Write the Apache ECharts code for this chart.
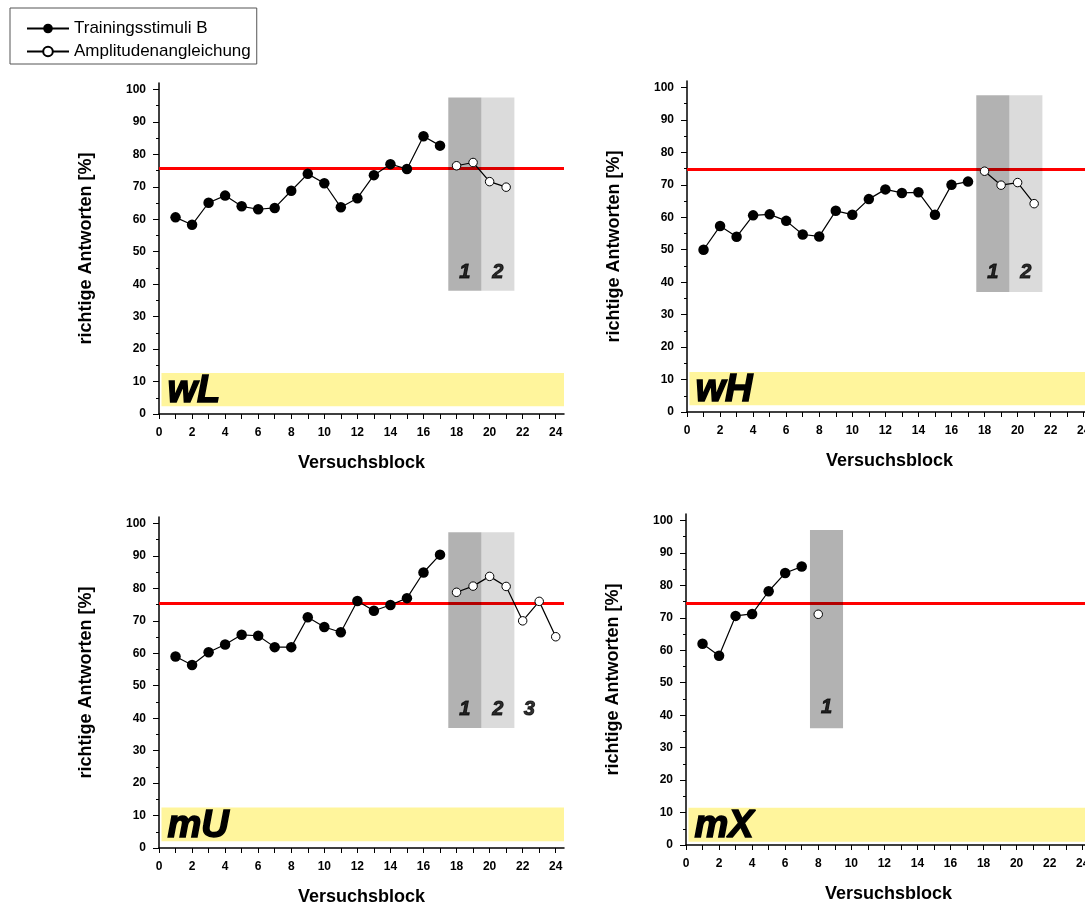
<!DOCTYPE html>
<html>
<head>
<meta charset="utf-8">
<script src="https://cdn.jsdelivr.net/npm/echarts@6/dist/echarts.min.js"></script>
<style>
html,body{margin:0;padding:0;background:#fff;}
#chart{width:1085px;height:907px;}
</style>
</head>
<body>
<div id="chart"></div>
<script>
// ---------- data ----------
const xTickValues = [0,1,2,3,4,5,6,7,8,9,10,11,12,13,14,15,16,17,18,19,20,21,22,23,24];
const xLabelValues = [0,2,4,6,8,10,12,14,16,18,20,22,24];
const yLabelValues = [0,10,20,30,40,50,60,70,80,90,100];
const yMinorValues = [5,15,25,35,45,55,65,75,85,95];

const seriesNames = ['Trainingsstimuli B', 'Amplitudenangleichung'];
const panelNames = ['wL', 'wH', 'mU', 'mX'];

// wL
const trainBlocks_wL = [1,2,3,4,5,6,7,8,9,10,11,12,13,14,15,16,17];
const train_wL = [60.6,58.3,65.1,67.3,64.0,63.1,63.5,68.8,74.0,71.1,63.7,66.5,73.6,77.0,75.5,85.6,82.7];
const ampBlocks_wL = [18,19,20,21];
const amp_wL = [76.5,77.5,71.6,69.9];
const criterion_wL = 75.7;
const bandFrom_wL = [17.5,19.5];
const bandTo_wL = [19.5,21.5];
const bandRange_wL = [38,97.5];
const bandLabels_wL = ['1','2'];
const bandLabelX_wL = [18.5,20.5];
const bandLabelY_wL = 43.5;
const nameBand_wL = [2.4,12.6];

// wH
const trainBlocks_wH = [1,2,3,4,5,6,7,8,9,10,11,12,13,14,15,16,17];
const train_wH = [50.0,57.3,54.0,60.6,60.9,58.9,54.7,54.1,62.0,60.8,65.6,68.6,67.5,67.7,60.8,70.0,71.0];
const ampBlocks_wH = [18,19,20,21];
const amp_wH = [74.2,69.9,70.7,64.2];
const criterion_wH = 74.9;
const bandFrom_wH = [17.5,19.5];
const bandTo_wH = [19.5,21.5];
const bandRange_wH = [37,97.6];
const bandLabels_wH = ['1','2'];
const bandLabelX_wH = [18.5,20.5];
const bandLabelY_wH = 43.0;
const nameBand_wH = [2.1,12.3];

// mU
const trainBlocks_mU = [1,2,3,4,5,6,7,8,9,10,11,12,13,14,15,16,17];
const train_mU = [59.0,56.4,60.3,62.7,65.7,65.4,61.9,61.9,71.1,68.1,66.5,76.1,73.1,74.9,77.0,84.9,90.4];
const ampBlocks_mU = [18,19,20,21,22,23,24];
const amp_mU = [78.8,80.7,83.7,80.6,70.0,76.0,65.1];
const criterion_mU = 75.4;
const bandFrom_mU = [17.5,19.5];
const bandTo_mU = [19.5,21.5];
const bandRange_mU = [37,97.3];
const bandLabels_mU = ['1','2','3'];
const bandLabelX_mU = [18.5,20.5,22.4];
const bandLabelY_mU = 42.7;
const nameBand_mU = [2.1,12.5];

// mX
const trainBlocks_mX = [1,2,3,4,5,6,7];
const train_mX = [62.0,58.3,70.6,71.2,78.2,83.8,85.8];
const ampBlocks_mX = [8];
const amp_mX = [71.1];
const criterion_mX = 74.4;
const bandFrom_mX = [7.5];
const bandTo_mX = [9.5];
const bandRange_mX = [36,97.1];
const bandLabels_mX = ['1'];
const bandLabelX_mX = [8.5];
const bandLabelY_mX = 42.4;
const nameBand_mX = [1.0,11.5];

const panels = [
  {name:'wL', tb:trainBlocks_wL, tv:train_wL, ab:ampBlocks_wL, av:amp_wL, crit:criterion_wL, bf:bandFrom_wL, bt:bandTo_wL, br:bandRange_wL, bl:bandLabels_wL, blx:bandLabelX_wL, bly:bandLabelY_wL, nb:nameBand_wL},
  {name:'wH', tb:trainBlocks_wH, tv:train_wH, ab:ampBlocks_wH, av:amp_wH, crit:criterion_wH, bf:bandFrom_wH, bt:bandTo_wH, br:bandRange_wH, bl:bandLabels_wH, blx:bandLabelX_wH, bly:bandLabelY_wH, nb:nameBand_wH},
  {name:'mU', tb:trainBlocks_mU, tv:train_mU, ab:ampBlocks_mU, av:amp_mU, crit:criterion_mU, bf:bandFrom_mU, bt:bandTo_mU, br:bandRange_mU, bl:bandLabels_mU, blx:bandLabelX_mU, bly:bandLabelY_mU, nb:nameBand_mU},
  {name:'mX', tb:trainBlocks_mX, tv:train_mX, ab:ampBlocks_mX, av:amp_mX, crit:criterion_mX, bf:bandFrom_mX, bt:bandTo_mX, br:bandRange_mX, bl:bandLabels_mX, blx:bandLabelX_mX, bly:bandLabelY_mX, nb:nameBand_mX}
];

// ---------- layout / style ----------
const FONT = 'Liberation Sans, Arial, Helvetica, sans-serif';
const X_MAX = 24.5, Y_MAX = 102;
const gridPos = [
  {left:159, width:405, top:83, height:331},
  {left:687, width:405, top:81, height:331},
  {left:159, width:405, top:517, height:331},
  {left:686, width:405, top:514, height:331}
];
const bandColors = ['rgba(0,0,0,0.30)', 'rgba(0,0,0,0.14)'];

const grids = [], xAxes = [], yAxes = [], series = [];

panels.forEach((p, i) => {
  grids.push(Object.assign({containLabel:false, outerBoundsMode:'none'}, gridPos[i]));
  xAxes.push({
    gridIndex:i, type:'value', min:0, max:X_MAX,
    axisLine:{show:true, onZero:false, lineStyle:{color:'#000', width:1.5}},
    axisTick:{show:true, customValues:xTickValues, length:5, lineStyle:{color:'#000', width:1}},
    axisLabel:{show:true, customValues:xLabelValues, fontSize:12, fontWeight:'bold', color:'#000', margin:13, fontFamily:FONT},
    splitLine:{show:false},
    name:'Versuchsblock', nameLocation:'middle', nameGap:40,
    nameTextStyle:{fontSize:18, fontWeight:'bold', color:'#000', fontFamily:FONT}
  });
  yAxes.push({
    gridIndex:i, type:'value', min:0, max:Y_MAX, position:'left',
    axisLine:{show:true, onZero:false, lineStyle:{color:'#000', width:1.5}},
    axisTick:{show:true, customValues:yLabelValues, length:6, lineStyle:{color:'#000', width:1}},
    axisLabel:{show:true, customValues:yLabelValues, fontSize:12, fontWeight:'bold', color:'#000', margin:13, fontFamily:FONT},
    splitLine:{show:false},
    name:'richtige Antworten [%]', nameLocation:'middle', nameGap:64,
    nameTextStyle:{fontSize:18, fontWeight:'bold', color:'#000', fontFamily:FONT}
  });
  yAxes.push({
    gridIndex:i, type:'value', min:0, max:Y_MAX, position:'left',
    axisLine:{show:false},
    axisTick:{show:true, customValues:yMinorValues, length:3, lineStyle:{color:'#000', width:1}},
    axisLabel:{show:false},
    splitLine:{show:false}
  });

  const trainData = p.tb.map((b, k) => [b, p.tv[k]]);
  const ampData = p.ab.map((b, k) => [b, p.av[k]]);
  const bandAreas = p.bf.map((f, k) => [
    {xAxis:f, yAxis:p.br[0], itemStyle:{color:bandColors[k % 2]}},
    {xAxis:p.bt[k], yAxis:p.br[1]}
  ]);

  series.push({
    type:'line', name:seriesNames[0], xAxisIndex:i, yAxisIndex:i*2,
    data:trainData, symbol:'circle', symbolSize:10.5, z:10,
    itemStyle:{color:'#000'}, lineStyle:{color:'#000', width:1.2},
    markLine:{
      silent:true, symbol:['none','none'], z:3, animation:false,
      label:{show:false},
      lineStyle:{color:'#ff0000', width:3, type:'solid'},
      data:[{yAxis:p.crit}]
    },
    markArea:{
      silent:true, z:1, animation:false,
      itemStyle:{color:'#fff59c'},
      label:{show:true, position:'insideLeft', distance:6, formatter:'{b}',
        fontSize:38, fontWeight:'bold', fontStyle:'italic', color:'#000',
        textBorderColor:'#000', textBorderWidth:1.5, fontFamily:FONT, offset:[0,2]},
      data:[[{name:p.name, xAxis:0.15, yAxis:p.nb[0]}, {xAxis:X_MAX, yAxis:p.nb[1]}]]
    }
  });
  series.push({
    type:'line', name:seriesNames[1], xAxisIndex:i, yAxisIndex:i*2,
    data:ampData, symbol:'circle', symbolSize:8.5, z:10,
    itemStyle:{color:'#fff', borderColor:'#000', borderWidth:1},
    lineStyle:{color:'#000', width:1.2},
    markArea:{
      silent:true, z:4, animation:false,
      label:{show:false},
      data:bandAreas
    }
  });
  series.push({
    type:'scatter', xAxisIndex:i, yAxisIndex:i*2, silent:true, z:11,
    symbolSize:1, itemStyle:{color:'rgba(0,0,0,0)'},
    data:p.bl.map((t, k) => [p.blx[k], p.bly, t]),
    label:{show:true, position:'inside', formatter:(d) => d.value[2],
      fontSize:20, fontWeight:'bold', fontStyle:'italic', color:'#000',
      textBorderColor:'#000', textBorderWidth:1, fontFamily:FONT}
  });
});

const chart = echarts.init(document.getElementById('chart'), null, {renderer:'canvas'});
chart.setOption({
  animation:false,
  backgroundColor:'#fff',
  textStyle:{fontFamily:FONT},
  legend:{
    show:true, orient:'vertical', left:10, top:8,
    data:seriesNames,
    itemWidth:42, itemHeight:12, itemGap:6,
    padding:[12, 6, 4, 16],
    borderColor:'#555', borderWidth:1,
    textStyle:{fontSize:17, color:'#000', fontFamily:FONT},
    selectedMode:false
  },
  grid:grids, xAxis:xAxes, yAxis:yAxes, series:series
});
</script>
</body>
</html>
